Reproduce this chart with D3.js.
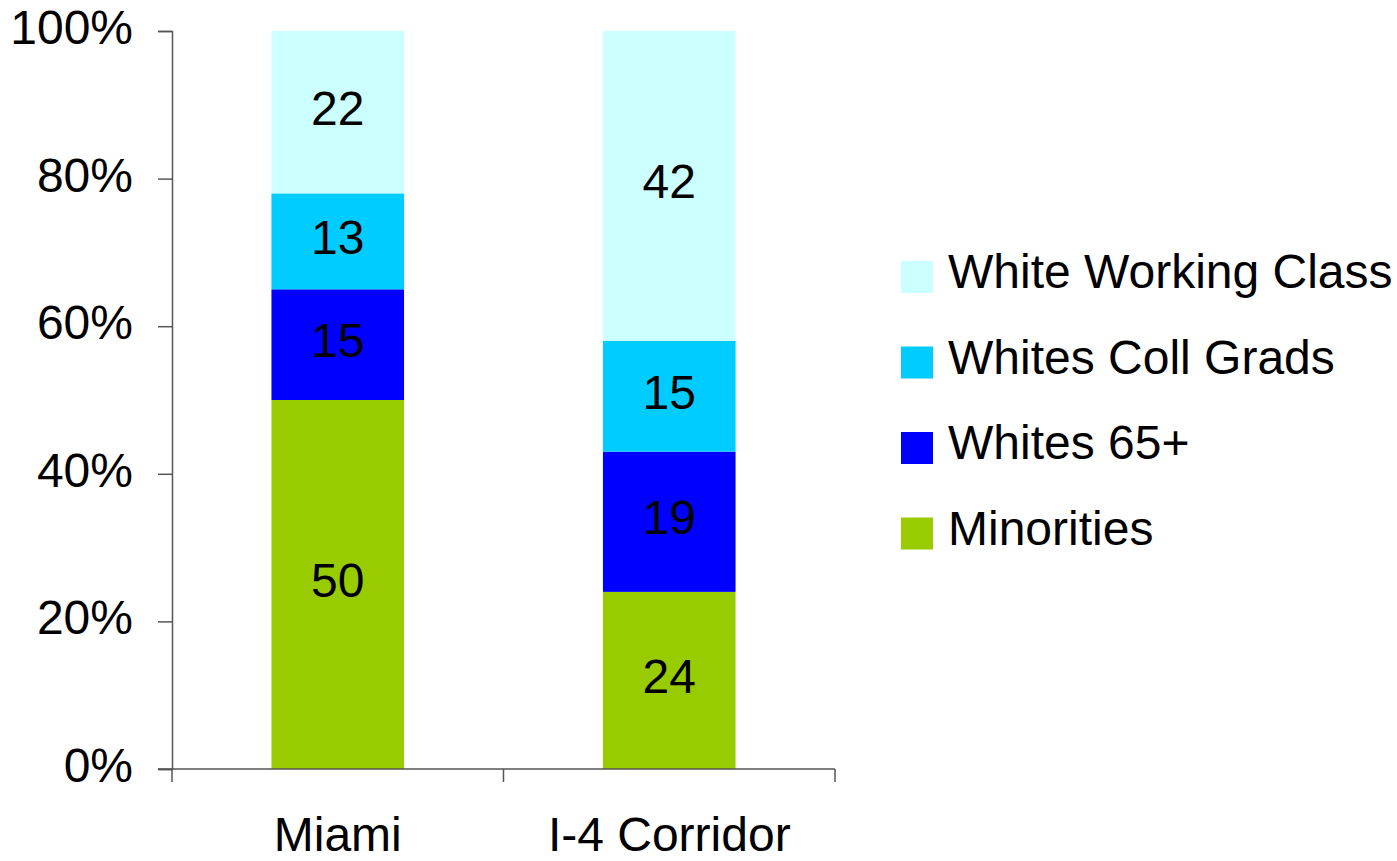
<!DOCTYPE html>
<html>
<head>
<meta charset="utf-8">
<script src="https://cdn.jsdelivr.net/npm/d3@7"></script>
<style>
  html, body { margin: 0; padding: 0; background: #ffffff; }
  svg { display: block; font-family: Arial, "Liberation Sans", sans-serif; }
</style>
</head>
<body>
<svg id="chart" width="1397" height="861"></svg>
<script>
// Regions shown along the x axis
const regions = ["Miami", "I-4 Corridor"];

// Series, stacked bottom to top (values in percent of each region's electorate)
const seriesNames = ["Minorities", "Whites 65+", "Whites Coll Grads", "White Working Class"];
const minorities = [50, 24];
const whites65 = [15, 19];
const whitesCollGrads = [13, 15];
const whiteWorkingClass = [22, 42];

const seriesColors = ["#99CC00", "#0000FF", "#00CCFF", "#CCFFFF"];

// Y axis tick labels
const yTicks = [0, 0.2, 0.4, 0.6, 0.8, 1.0];

const rows = regions.map((r, i) => ({
  region: r,
  "Minorities": minorities[i],
  "Whites 65+": whites65[i],
  "Whites Coll Grads": whitesCollGrads[i],
  "White Working Class": whiteWorkingClass[i]
}));

const svg = d3.select("#chart");
const plot = { left: 172, right: 835, top: 31, bottom: 769 };
const fontSize = 48;

const x = d3.scaleBand()
  .domain(regions)
  .range([plot.left, plot.right])
  .paddingInner(0.6)
  .paddingOuter(0.3);

const y = d3.scaleLinear().domain([0, 1]).range([plot.bottom, plot.top]);

const stack = d3.stack().keys(seriesNames).offset(d3.stackOffsetExpand);
const layers = stack(rows);

const color = d3.scaleOrdinal().domain(seriesNames).range(seriesColors);

// Bars
const g = svg.append("g");
layers.forEach(layer => {
  g.selectAll(null)
    .data(layer)
    .join("rect")
    .attr("x", d => x(d.data.region))
    .attr("width", x.bandwidth())
    .attr("y", d => y(d[1]))
    .attr("height", d => y(d[0]) - y(d[1]))
    .attr("fill", color(layer.key));
});

// Value labels centred in each segment
layers.forEach(layer => {
  g.selectAll(null)
    .data(layer)
    .join("text")
    .attr("x", d => x(d.data.region) + x.bandwidth() / 2)
    .attr("y", d => (y(d[0]) + y(d[1])) / 2 + 12.5)
    .attr("text-anchor", "middle")
    .attr("font-size", fontSize)
    .attr("fill", "#000")
    .text(d => d.data[layer.key]);
});

// Y axis
const yAxis = d3.axisLeft(y)
  .tickValues(yTicks)
  .tickFormat(d3.format(".0%"))
  .tickSize(14)
  .tickPadding(25);
const yg = svg.append("g").attr("transform", `translate(${plot.left},0)`).call(yAxis);
yg.select(".domain").attr("stroke", "#555").attr("stroke-width", 1.5);
yg.selectAll(".tick line").attr("stroke", "#555").attr("stroke-width", 1.5);
yg.selectAll(".tick text")
  .attr("font-size", fontSize)
  .attr("font-family", "Arial, 'Liberation Sans', sans-serif")
  .attr("fill", "#000")
  .attr("dy", null)
  .attr("y", 12.5);

// X axis: baseline with tick marks at the category boundaries
const xg = svg.append("g");
xg.append("line")
  .attr("x1", plot.left - 14).attr("x2", plot.right)
  .attr("y1", plot.bottom).attr("y2", plot.bottom)
  .attr("stroke", "#555").attr("stroke-width", 1.5);
const boundaries = [plot.left].concat(regions.map(r => x(r) + x.bandwidth() / 2 + x.step() / 2));
xg.selectAll(null)
  .data(boundaries)
  .join("line")
  .attr("x1", d => d).attr("x2", d => d)
  .attr("y1", plot.bottom).attr("y2", plot.bottom + 13)
  .attr("stroke", "#555").attr("stroke-width", 1.5);
xg.selectAll(null)
  .data(regions)
  .join("text")
  .attr("x", d => x(d) + x.bandwidth() / 2)
  .attr("y", 851)
  .attr("text-anchor", "middle")
  .attr("font-size", fontSize)
  .attr("fill", "#000")
  .text(d => d);

// Legend, top series first
const legendOrder = seriesNames.slice().reverse();
const legend = svg.append("g").attr("transform", "translate(901,261)");
const item = legend.selectAll(null)
  .data(legendOrder)
  .join("g")
  .attr("transform", (d, i) => `translate(0,${i * 85.5})`);
item.append("rect")
  .attr("width", 32).attr("height", 32)
  .attr("fill", d => color(d));
item.append("text")
  .attr("x", 47)
  .attr("y", 27)
  .attr("font-size", fontSize)
  .attr("fill", "#000")
  .text(d => d);
</script>
</body>
</html>
